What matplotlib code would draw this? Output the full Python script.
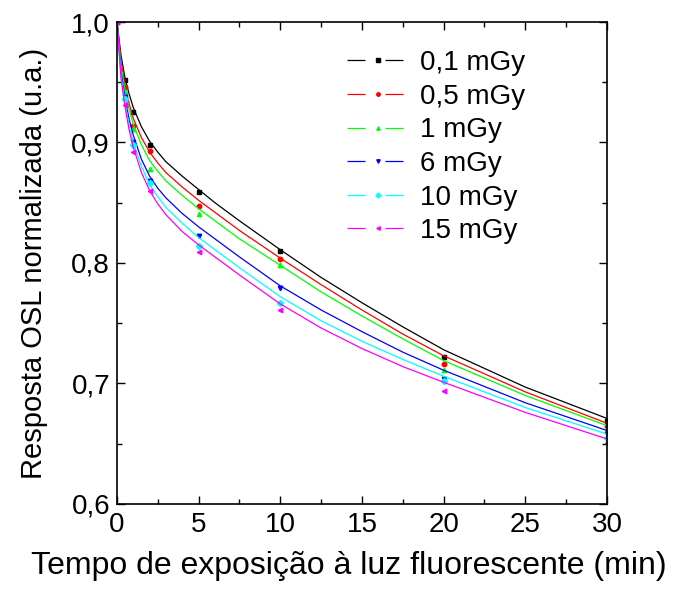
import matplotlib
matplotlib.use("Agg")
import matplotlib.pyplot as plt
from matplotlib.lines import Line2D
from matplotlib.ticker import MultipleLocator, FuncFormatter

plt.rcParams['font.family'] = ['Liberation Sans', 'DejaVu Sans']

# measured points (time in min, normalized OSL)
t_pts = [0, 0.5, 1, 2, 5, 10, 20, 30]
pts = {
    "0,1 mGy": [1.0, 0.952, 0.925, 0.898, 0.859, 0.810, 0.722, 0.669],
    "0,5 mGy": [1.0, 0.946, 0.914, 0.893, 0.847, 0.803, 0.716, 0.665],
    "1 mGy":   [1.0, 0.943, 0.911, 0.878, 0.841, 0.798, 0.711, 0.662],
    "6 mGy":   [1.0, 0.938, 0.900, 0.868, 0.822, 0.779, 0.704, 0.658],
    "10 mGy":  [1.0, 0.936, 0.898, 0.866, 0.814, 0.767, 0.702, 0.655],
    "15 mGy":  [1.0, 0.931, 0.892, 0.860, 0.809, 0.761, 0.694, 0.651],
}

# fitted curves
t_fit = [0, 0.25, 0.5, 0.75, 1, 1.5, 2, 2.5, 3, 4, 5, 6, 7.5, 10, 12.5, 15, 17.5, 20, 25, 30]
fits = {
    "0,1 mGy": [1.0, 0.972, 0.953, 0.940, 0.929, 0.913, 0.901, 0.892, 0.884, 0.872, 0.861,
                0.850, 0.835, 0.811, 0.788, 0.767, 0.747, 0.728, 0.697, 0.671],
    "0,5 mGy": [1.0, 0.967, 0.947, 0.932, 0.920, 0.904, 0.892, 0.883, 0.875, 0.863, 0.852,
                0.842, 0.827, 0.804, 0.782, 0.761, 0.741, 0.723, 0.693, 0.667],
    "1 mGy":   [1.0, 0.963, 0.943, 0.927, 0.915, 0.898, 0.885, 0.876, 0.868, 0.856, 0.845,
                0.835, 0.820, 0.798, 0.776, 0.756, 0.737, 0.719, 0.690, 0.665],
    "6 mGy":   [1.0, 0.958, 0.936, 0.919, 0.906, 0.886, 0.872, 0.862, 0.854, 0.841, 0.830,
                0.820, 0.805, 0.781, 0.761, 0.743, 0.726, 0.711, 0.684, 0.661],
    "10 mGy":  [1.0, 0.955, 0.932, 0.914, 0.900, 0.880, 0.865, 0.855, 0.846, 0.833, 0.821,
                0.811, 0.796, 0.772, 0.752, 0.735, 0.720, 0.706, 0.680, 0.658],
    "15 mGy":  [1.0, 0.953, 0.929, 0.910, 0.896, 0.875, 0.860, 0.849, 0.840, 0.826, 0.815,
                0.805, 0.790, 0.766, 0.746, 0.729, 0.714, 0.701, 0.676, 0.654],
}

colors = ["#000000", "#FF0000", "#00FF00", "#0000FF", "#00FFFF", "#FF00FF"]
markers = ["s", "o", "^", "v", "D", "<"]

fig = plt.figure(figsize=(6.84, 5.90), dpi=100)
ax = fig.add_axes([0.171, 0.1458, 0.7164, 0.8169])

handles = []
for (name, yp), c, m in zip(pts.items(), colors, markers):
    ax.plot(t_fit, fits[name], color=c, lw=0.9)
    ax.plot(t_pts, yp, ls="none", marker=m, color=c, ms=3.2)
    h_line = Line2D([], [], color=c, lw=0.9, linestyle=(0, (14.4, 16.0)))
    h_mark = Line2D([], [], color=c, ls="none", marker=m, ms=2.5)
    handles.append((h_line, h_mark))

ax.set_xlim(0, 30)
ax.set_ylim(0.6, 1.0)
ax.xaxis.set_major_locator(MultipleLocator(5))
ax.xaxis.set_minor_locator(MultipleLocator(2.5))
ax.yaxis.set_major_locator(MultipleLocator(0.1))
ax.yaxis.set_minor_locator(MultipleLocator(0.05))
ax.yaxis.set_major_formatter(FuncFormatter(lambda v, p: f"{v:.1f}".replace(".", ",")))
ax.tick_params(which="both", direction="in", top=True, right=True, width=1.0, labelsize=20)
ax.tick_params(axis="y", pad=5)
ax.tick_params(axis="x", pad=6)
ax.tick_params(which="major", length=6)
ax.tick_params(which="minor", length=3.5)
for s in ax.spines.values():
    s.set_linewidth(1.2)

ax.set_xlabel("Tempo de exposição à luz fluorescente (min)", fontsize=23)
ax.xaxis.set_label_coords(0.474, -0.097)
ax.set_ylabel("Resposta OSL normalizada (u.a.)", fontsize=21, labelpad=17)

ax.legend(handles, list(pts.keys()), loc="upper left", bbox_to_anchor=(0.469, 0.942),
          frameon=False, fontsize=20, handlelength=2.27, handletextpad=0.36,
          labelspacing=0.275, borderpad=0, borderaxespad=0)

fig.savefig("out.png", dpi=100)
